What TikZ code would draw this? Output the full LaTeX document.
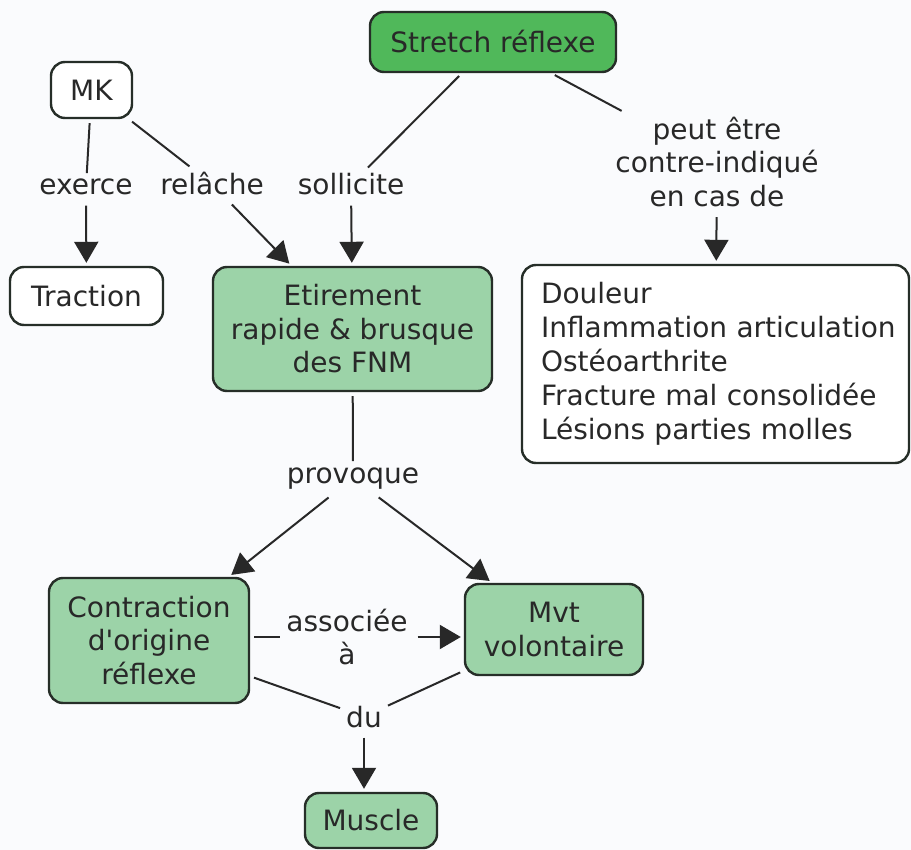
\documentclass[tikz,border=0pt]{standalone}
\usepackage{fontspec}
\setmainfont{DejaVu Sans}
\usetikzlibrary{arrows.meta}
\definecolor{bgtint}{RGB}{250,251,253}
\definecolor{strongGreen}{RGB}{80,184,90}
\definecolor{softGreen}{RGB}{156,211,168}
\definecolor{ink}{RGB}{40,40,40}
\definecolor{rim}{RGB}{38,46,40}
\begin{document}
\begin{tikzpicture}[x=1pt,y=-1pt,
  every node/.style={font=\fontsize{28}{33.5}\selectfont, text=ink},
  cbox/.style={draw=rim, line width=2.4pt, rounded corners=14pt, align=center, inner sep=0pt},
  plainbox/.style={cbox, fill=white},
  keybox/.style={cbox, fill=strongGreen},
  greenbox/.style={cbox, fill=softGreen},
  linklabel/.style={align=center, inner sep=6pt},
  conn/.style={draw=ink, line width=2pt, shorten <=4pt},
  arrowconn/.style={conn, -{Triangle[length=21pt,width=24pt]}, shorten >=3pt},
]
% canvas
\fill[bgtint] (0,0) rectangle (911,850);
\useasboundingbox (0,0) rectangle (911,850);

% concept boxes
\node[keybox, minimum width=246pt, minimum height=60pt] (stretch) at (493,42) {Stretch réflexe};
\node[plainbox, minimum width=81pt, minimum height=56pt] (mk) at (91.5,90) {MK};
\node[plainbox, minimum width=153pt, minimum height=58pt] (traction) at (86.5,296) {Traction};
\node[greenbox, minimum width=279pt, minimum height=124pt] (etirement) at (352.5,329)
  {Etirement\\rapide \& brusque\\des FNM};
\node[plainbox, minimum height=198pt, text width=387pt, align=left,
  font=\fontsize{28}{34}\selectfont] (contre) at (715.5,364)
  {\leftskip=19pt Douleur\\Inflammation articulation\\Ostéoarthrite\\Fracture mal consolidée\\Lésions parties molles\par};
\node[greenbox, minimum width=200pt, minimum height=125pt] (contraction) at (149,640.5)
  {Contraction\\d\textquotesingle origine\\réflexe};
\node[greenbox, minimum width=178pt, minimum height=91pt] (mvt) at (554,629.5) {Mvt\\volontaire};
\node[greenbox, minimum width=132pt, minimum height=55pt] (muscle) at (371,820.5) {Muscle};

% link phrases
\node[linklabel, anchor=base] (exerce) at (86,195) {exerce};
\node[linklabel, anchor=base] (relache) at (212,195) {relâche};
\node[linklabel, anchor=base] (sollicite) at (351,195) {sollicite};
\node[linklabel] (contreind) at (717,162) {peut être\\contre-indiqué\\en cas de};
\node[linklabel, anchor=base] (provoque) at (353,483) {provoque};
\node[linklabel] (associee) at (347,637) {associée\\à};
\node[linklabel, anchor=base] (du) at (364,727) {du};

% connectors
\draw[conn] (mk) -- (exerce);
\draw[arrowconn] (exerce) -- (traction);
\draw[conn] (mk) -- (relache);
\draw[arrowconn] (relache) -- (etirement);
\draw[conn] (stretch) -- (sollicite);
\draw[arrowconn] (sollicite) -- (etirement);
\draw[conn] (stretch) -- (contreind);
\draw[arrowconn] (contreind) -- (contre);
\draw[conn] (etirement) -- (provoque);
\draw[arrowconn] (provoque) -- (contraction);
\draw[arrowconn] (provoque) -- (mvt);
\draw[conn] (contraction.east |- associee.west) -- (associee.west);
\draw[arrowconn] (associee.east) -- (associee.east -| mvt.west);
\draw[conn] (contraction) -- (du);
\draw[conn] (mvt) -- (du);
\draw[arrowconn] (du) -- (du |- muscle.north);
\end{tikzpicture}
\end{document}
